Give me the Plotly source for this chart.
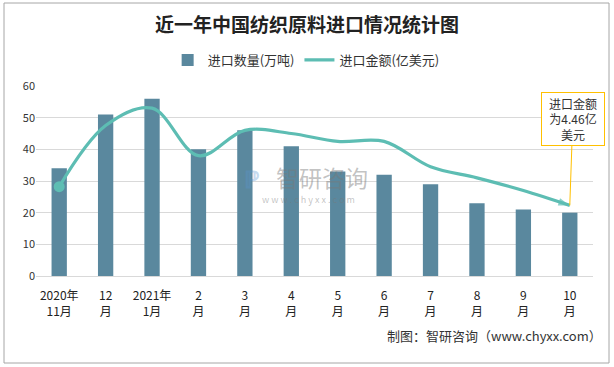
import plotly.graph_objects as go

categories = ["2020年<br>11月", "12<br>月", "2021年<br>1月", "2<br>月", "3<br>月", "4<br>月",
              "5<br>月", "6<br>月", "7<br>月", "8<br>月", "9<br>月", "10<br>月"]
quantity = [34, 51, 56, 40, 46, 41, 33, 32, 29, 23, 21, 20]          # 进口数量(万吨)
amount = [5.64, 9.5, 10.6, 7.6, 9.2, 9.0, 8.5, 8.5, 6.9, 6.2, 5.4, 4.46]  # 进口金额(亿美元)
yticks = [0, 10, 20, 30, 40, 50, 60]

FONT = "Noto Sans CJK SC"
BAR_COLOR = "#5A889E"
LINE_COLOR = "#5DBDB3"

fig = go.Figure()
fig.add_trace(go.Bar(
    x=categories, y=quantity, name="进口数量(万吨)",
    marker=dict(color=BAR_COLOR, line=dict(width=0)), width=0.33,
))
n = len(amount)
fig.add_trace(go.Scatter(
    x=categories, y=amount, name="进口金额(亿美元)", yaxis="y2",
    mode="lines+markers", line=dict(color=LINE_COLOR, width=3.2, shape="spline", smoothing=1.0),
    marker=dict(symbol=["arrow"] * n, size=[0] * (n - 1) + [12], color=LINE_COLOR,
                angleref="previous", line=dict(width=0)),
))
# start dot of the amount line
fig.add_trace(go.Scatter(
    x=categories[:1], y=amount[:1], yaxis="y2", mode="markers", showlegend=False,
    marker=dict(symbol="circle", size=11, color=LINE_COLOR), hoverinfo="skip",
))

# plot area pixel geometry
L, R, T, B = 36, 21, 86, 91
W, H = 614 - L - R, 367 - T - B
def px(x):
    return (x - L) / W
def py(y):
    return (367 - B - y) / H

fig.update_layout(
    width=614, height=367,
    margin=dict(l=L, r=R, t=T, b=B, autoexpand=False),
    paper_bgcolor="white", plot_bgcolor="white",
    font=dict(family=FONT, color="#333333", size=12),
    title=dict(text="<b>近一年中国纺织原料进口情况统计图</b>", x=0.5, xanchor="center",
               y=1 - 25 / 367, yanchor="middle", font=dict(size=19, color="#222222", family=FONT)),
    legend=dict(orientation="h", x=0.485, xanchor="center", y=py(60), yanchor="middle",
                font=dict(size=13, color="#333333"), itemwidth=30, bgcolor="rgba(0,0,0,0)"),
    bargap=0.6,
    xaxis=dict(type="category", range=[-0.5, len(categories) - 0.5], showgrid=False,
               showline=True, linecolor="#D9D9D9", ticks="", ticklabelstandoff=9,
               tickfont=dict(size=12, color="#222222"), automargin=False),
    yaxis=dict(range=[0, 60], tickvals=yticks, showgrid=True, gridcolor="#D9D9D9", gridwidth=1,
               zeroline=False, showline=False, ticks="", tickfont=dict(size=11, color="#333333"),
               automargin=False),
    yaxis2=dict(range=[0, 12], overlaying="y", side="right", visible=False, showgrid=False),
)

# callout
fig.add_annotation(
    x=categories[-1], y=amount[-1], xref="x", yref="y2",
    text="进口金额<br>为4.46亿<br>美元", showarrow=True, arrowhead=0, arrowwidth=1,
    arrowcolor="#FFC000", ax=3, ay=-86, bordercolor="#FFC000", borderwidth=1,
    bgcolor="white", font=dict(size=12, color="#333333"), width=60, height=50, align="center",
)

# watermark
fig.add_annotation(x=px(322), y=py(177), xref="paper", yref="paper", text="智研咨询",
                   showarrow=False, font=dict(size=23, color="rgba(120,120,120,0.45)"))
fig.add_annotation(x=px(252), y=py(177), xref="paper", yref="paper", text="<b>ℙ</b>",
                   showarrow=False, font=dict(size=24, color="rgba(90,150,210,0.35)"))
fig.add_annotation(x=px(308), y=py(199), xref="paper", yref="paper",
                   text="w w w . c h y x x . c o m", showarrow=False,
                   font=dict(size=9, color="rgba(120,120,120,0.45)"))

# footer
fig.add_annotation(x=px(604), y=py(347), xref="paper", yref="paper", xanchor="right",
                   text="制图：智研咨询（www.chyxx.com）", showarrow=False,
                   font=dict(size=13, color="#333333"))

# outer border
fig.add_shape(type="rect", xref="paper", yref="paper", x0=px(4), x1=px(609), y0=py(363), y1=py(3),
              line=dict(color="#A6A6A6", width=1), fillcolor="rgba(0,0,0,0)", layer="below")

fig.write_html("out.html", config={"displayModeBar": False},
               post_script="document.body.style.margin='0';")
